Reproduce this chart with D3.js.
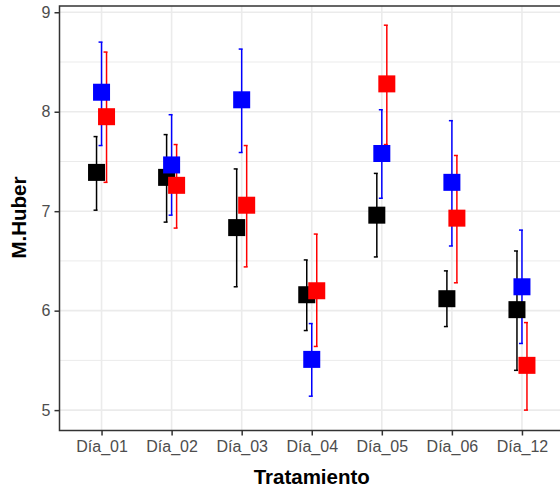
<!DOCTYPE html>
<html>
<head>
<meta charset="utf-8">
<script src="https://cdn.jsdelivr.net/npm/d3@7"></script>
<style>
  html, body { margin: 0; padding: 0; background: #fff; }
  svg { display: block; font-family: "Liberation Sans", Arial, sans-serif; }
</style>
</head>
<body>
<div id="chart"></div>
<script>
// treatment days on the x axis
const categories = ["Día_01", "Día_02", "Día_03", "Día_04", "Día_05", "Día_06", "Día_12"];
const groups = ["black", "blue", "red"];
const groupColors = ["#000000", "#0000ff", "#ff0000"];

// M.Huber estimates with lower / upper limits, one array per group
const blackMean = [7.39, 7.34, 6.835, 6.16, 6.96, 6.12, 6.01];
const blackLow  = [7.01, 6.89, 6.24, 5.80, 6.54, 5.84, 5.40];
const blackHigh = [7.75, 7.77, 7.425, 6.51, 7.38, 6.40, 6.60];

const blueMean = [8.196, 7.465, 8.12, 5.51, 7.58, 7.29, 6.24];
const blueLow  = [7.66, 6.96, 7.59, 5.14, 7.13, 6.65, 5.67];
const blueHigh = [8.70, 7.97, 8.63, 5.87, 8.02, 7.91, 6.81];

const redMean = [7.95, 7.26, 7.06, 6.20, 8.28, 6.93, 5.45];
const redLow  = [7.29, 6.83, 6.44, 5.64, 7.67, 6.28, 5.00];
const redHigh = [8.60, 7.67, 7.66, 6.77, 8.87, 7.56, 5.88];

const yTicks = [5, 6, 7, 8, 9];
const yMinor = [5.5, 6.5, 7.5, 8.5];

(function() {
  const width = 560, height = 494;
  const panel = { left: 59.5, right: 564, top: 6, bottom: 430.5 };

  const series = [
    { name: groups[0], mean: blackMean, low: blackLow, high: blackHigh },
    { name: groups[1], mean: blueMean, low: blueLow, high: blueHigh },
    { name: groups[2], mean: redMean, low: redLow, high: redHigh }
  ];

  const rows = [];
  series.forEach(s => {
    categories.forEach((c, i) => {
      rows.push({ group: s.name, cat: c, mean: s.mean[i], low: s.low[i], high: s.high[i] });
    });
  });

  const svg = d3.select("#chart").append("svg")
    .attr("width", width)
    .attr("height", height);

  const x = d3.scalePoint()
    .domain(categories)
    .range([panel.left, panel.right])
    .padding(0.6);

  const dodge = d3.scalePoint()
    .domain(groups)
    .range([-5, 5]);

  const y = d3.scaleLinear()
    .domain([4.795, 9.063])
    .range([panel.bottom, panel.top]);

  const color = d3.scaleOrdinal(groups, groupColors);

  // grid
  const grid = svg.append("g");
  grid.selectAll(".minor")
    .data(yMinor)
    .join("line")
    .attr("x1", panel.left).attr("x2", panel.right)
    .attr("y1", d => y(d)).attr("y2", d => y(d))
    .attr("stroke", "#ebebeb")
    .attr("stroke-width", 1);

  grid.selectAll(".major-y")
    .data(yTicks)
    .join("line")
    .attr("x1", panel.left).attr("x2", panel.right)
    .attr("y1", d => y(d)).attr("y2", d => y(d))
    .attr("stroke", "#ebebeb")
    .attr("stroke-width", 1.6);

  grid.selectAll(".major-x")
    .data(categories)
    .join("line")
    .attr("x1", d => x(d)).attr("x2", d => x(d))
    .attr("y1", panel.top).attr("y2", panel.bottom)
    .attr("stroke", "#ebebeb")
    .attr("stroke-width", 1.6);

  // error bars
  const bars = svg.append("g").selectAll("g")
    .data(rows)
    .join("g")
    .attr("stroke", d => color(d.group))
    .attr("stroke-width", 1.5)
    .attr("fill", "none");

  const bx = d => x(d.cat) + dodge(d.group);

  bars.append("line")
    .attr("x1", bx).attr("x2", bx)
    .attr("y1", d => y(d.low)).attr("y2", d => y(d.high));
  bars.append("line")
    .attr("x1", d => bx(d) - 3).attr("x2", d => bx(d) + 1)
    .attr("y1", d => y(d.high)).attr("y2", d => y(d.high));
  bars.append("line")
    .attr("x1", d => bx(d) - 3).attr("x2", d => bx(d) + 1)
    .attr("y1", d => y(d.low)).attr("y2", d => y(d.low));

  // points (squares)
  const size = 17;
  svg.append("g").selectAll("rect")
    .data(rows)
    .join("rect")
    .attr("x", d => bx(d) - size / 2)
    .attr("y", d => y(d.mean) - size / 2)
    .attr("width", size)
    .attr("height", size)
    .attr("fill", d => color(d.group));

  // panel border
  svg.append("rect")
    .attr("x", panel.left).attr("y", panel.top)
    .attr("width", panel.right - panel.left)
    .attr("height", panel.bottom - panel.top)
    .attr("fill", "none")
    .attr("stroke", "#333333")
    .attr("stroke-width", 1.5);

  // axes
  const yAxis = svg.append("g")
    .attr("transform", `translate(${panel.left},0)`)
    .call(d3.axisLeft(y).tickValues(yTicks).tickSize(5).tickPadding(4).tickFormat(d3.format("d")));
  const xAxis = svg.append("g")
    .attr("transform", `translate(0,${panel.bottom})`)
    .call(d3.axisBottom(x).tickSize(5).tickPadding(5));

  [yAxis, xAxis].forEach(a => {
    a.select(".domain").remove();
    a.selectAll(".tick line").attr("stroke", "#333333").attr("stroke-width", 1.5);
    a.selectAll(".tick text")
      .attr("fill", "#4d4d4d")
      .style("font-size", "16px")
      .style("font-family", "'Liberation Sans', Arial, sans-serif");
  });

  // axis titles
  svg.append("text")
    .attr("x", (panel.left + panel.right) / 2)
    .attr("y", 484)
    .attr("text-anchor", "middle")
    .style("font-size", "20.5px")
    .style("font-weight", "bold")
    .text("Tratamiento");

  svg.append("text")
    .attr("transform", `translate(26,217.5) rotate(-90)`)
    .attr("text-anchor", "middle")
    .style("font-size", "20.5px")
    .style("font-weight", "bold")
    .text("M.Huber");
})();
</script>
</body>
</html>
